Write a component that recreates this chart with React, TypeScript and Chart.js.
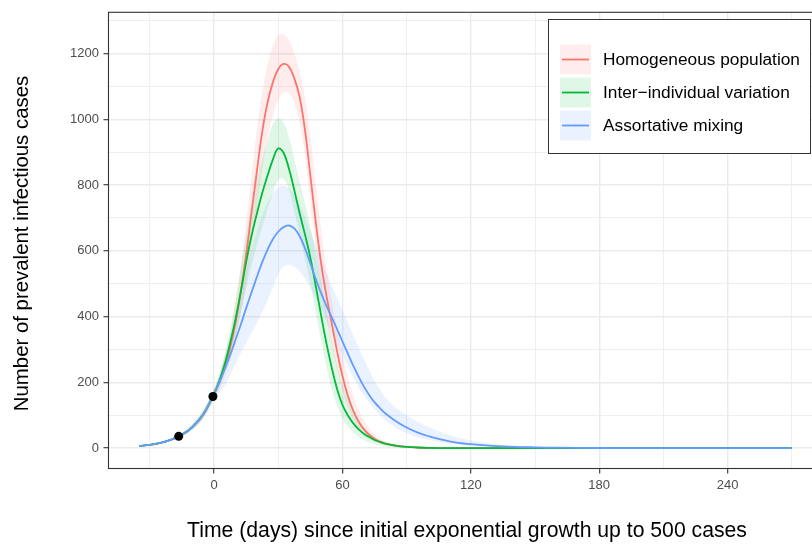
import { useEffect, useRef } from "react";
import { Chart, registerables } from "chart.js";

Chart.register(...registerables);

// ---- data ----
const days = [-35, -30, -25, -20, -15, -10, -5,
  0, 2.5, 5, 7.5, 10, 12.5, 15, 17.5, 20, 22.5, 25, 27.5, 30, 32.5, 35, 37.5, 40, 42.5, 45, 47.5, 50, 52.5, 55, 57.5, 60, 62.5, 65, 67.5, 70, 72.5, 75, 77.5, 80,
  85, 90, 95, 100, 110, 120, 130, 140, 150, 160, 180, 200, 220, 240, 260, 270];

const homogeneous = [7, 10, 16, 26, 41, 65, 103,
  165, 200, 246, 305, 380, 475, 587, 715, 840, 960, 1050, 1112, 1152, 1168, 1160, 1125, 1068, 968, 830, 690, 565, 465, 380, 295, 220, 160, 115, 82, 58, 41, 29, 20, 14,
  7, 4, 2, 1, 0, 0, 0, 0, 0, 0, 0, 0, 0, 0, 0, 0];
const homogeneousUpper = [8, 11, 18, 29, 46, 73, 116,
  180, 220, 275, 345, 435, 550, 685, 830, 965, 1080, 1165, 1222, 1255, 1258, 1240, 1200, 1145, 1065, 950, 810, 670, 550, 450, 365, 285, 215, 160, 118, 85, 60, 42, 30, 21,
  11, 6, 3, 2, 1, 0, 0, 0, 0, 0, 0, 0, 0, 0, 0, 0];
const homogeneousLower = [6, 9, 14, 23, 36, 57, 90,
  150, 180, 218, 268, 330, 410, 500, 610, 725, 840, 940, 1010, 1058, 1082, 1080, 1050, 990, 890, 750, 610, 490, 395, 315, 240, 175, 125, 88, 62, 43, 30, 21, 14, 10,
  5, 2, 1, 0, 0, 0, 0, 0, 0, 0, 0, 0, 0, 0, 0, 0];

const interIndividual = [7, 10, 16, 26, 41, 65, 103,
  165, 205, 255, 318, 390, 475, 565, 645, 712, 775, 828, 877, 911, 898, 850, 785, 715, 650, 580, 495, 405, 320, 245, 180, 132, 100, 76, 58, 44, 34, 25, 19, 14,
  8, 4, 2, 1, 0, 0, 0, 0, 0, 0, 0, 0, 0, 0, 0, 0];
const interIndividualUpper = [8, 11, 18, 29, 46, 73, 116,
  180, 225, 285, 360, 450, 550, 650, 740, 815, 878, 935, 985, 1003, 990, 945, 880, 812, 745, 675, 595, 505, 415, 330, 255, 195, 150, 115, 85, 63, 46, 34, 25, 18,
  10, 5, 3, 2, 1, 0, 0, 0, 0, 0, 0, 0, 0, 0, 0, 0];
const interIndividualLower = [6, 9, 14, 23, 36, 57, 90,
  150, 185, 228, 280, 340, 410, 485, 555, 615, 672, 725, 775, 815, 820, 785, 720, 645, 575, 500, 415, 330, 250, 180, 130, 92, 67, 48, 35, 25, 18, 13, 9, 6,
  3, 1, 0, 0, 0, 0, 0, 0, 0, 0, 0, 0, 0, 0, 0, 0];

const assortative = [7, 10, 16, 26, 41, 65, 103,
  165, 200, 240, 282, 328, 375, 425, 473, 520, 565, 603, 635, 658, 672, 677, 668, 645, 608, 562, 515, 472, 433, 398, 362, 325, 288, 252, 218, 188, 162, 140, 122, 106,
  82, 63, 48, 37, 21, 12, 7, 4, 2.5, 1.5, 0.5, 0, 0, 0, 0, 0];
const assortativeUpper = [8, 11, 18, 29, 46, 73, 116,
  180, 225, 280, 340, 410, 475, 540, 602, 660, 708, 745, 775, 792, 797, 790, 770, 740, 702, 660, 617, 575, 535, 495, 457, 420, 382, 345, 308, 272, 238, 205, 178, 155,
  122, 100, 80, 65, 40, 24, 14, 8, 5, 3, 1, 0, 0, 0, 0, 0];
const assortativeLower = [6, 9, 14, 23, 36, 57, 90,
  150, 168, 190, 220, 255, 288, 320, 350, 380, 413, 450, 490, 528, 552, 558, 552, 538, 515, 488, 456, 422, 387, 352, 317, 283, 248, 215, 186, 160, 138, 118, 101, 86,
  62, 45, 33, 25, 14, 7, 4, 2, 1, 0, 0, 0, 0, 0, 0, 0];

const markerDays = [-16.5, -0.5];
const markerValues = [36, 157];

const seriesNames = ["Homogeneous population", "Inter\u2212individual variation", "Assortative mixing"];
const seriesColors = ["#F8766D", "#00BA38", "#619CFF"];
const seriesFills = ["rgba(248,118,109,0.13)", "rgba(0,186,56,0.12)", "rgba(97,156,255,0.13)"];

const xTickValues = [-30, 0, 30, 60, 90, 120, 150, 180, 210, 240, 270];
const yTickValues = [0, 100, 200, 300, 400, 500, 600, 700, 800, 900, 1000, 1100, 1200, 1300];

const xTitle = "Time (days) since initial exponential growth up to 500 cases";
const yTitle = "Number of prevalent infectious cases";

const FONT = "'Liberation Sans', Arial, Helvetica, sans-serif";

const toPoints = (vals: number[]) => vals.map((v, i) => ({ x: days[i], y: v }));

const panelLegendPlugin = {
  id: "panelLegend",
  afterDatasetsDraw(chart: any) {
    const { ctx, chartArea: a } = chart;
    ctx.save();
    ctx.strokeStyle = "#333333";
    ctx.lineWidth = 1.1;
    ctx.strokeRect(a.left, a.top, a.right - a.left, a.bottom - a.top);

    // legend
    const bx = 548.5, by = 19.5, bw = 262, bh = 134;
    ctx.fillStyle = "#ffffff";
    ctx.fillRect(bx, by, bw, bh);
    ctx.strokeStyle = "#333333";
    ctx.lineWidth = 1;
    ctx.strokeRect(bx, by, bw, bh);
    const keyX = 560, keyW = 31, keyH = 30;
    const keyY0 = 44.5, step = 33;
    ctx.font = `17.3px ${FONT}`;
    ctx.textBaseline = "middle";
    ctx.textAlign = "left";
    for (let i = 0; i < seriesNames.length; i++) {
      const ky = keyY0 + i * step;
      ctx.fillStyle = seriesFills[i];
      ctx.fillRect(keyX, ky, keyW, keyH);
      ctx.strokeStyle = seriesColors[i];
      ctx.lineWidth = 1.8;
      ctx.beginPath();
      ctx.moveTo(keyX + 2, ky + keyH / 2);
      ctx.lineTo(keyX + keyW - 2, ky + keyH / 2);
      ctx.stroke();
      ctx.fillStyle = "#000000";
      ctx.fillText(seriesNames[i], 603, ky + keyH / 2 + 1);
    }

    // axis titles
    ctx.fillStyle = "#000000";
    ctx.textAlign = "center";
    ctx.textBaseline = "alphabetic";
    ctx.font = `21.2px ${FONT}`;
    ctx.fillText(xTitle, 467, 536.5);
    ctx.save();
    ctx.translate(28, 243.5);
    ctx.rotate(-Math.PI / 2);
    ctx.font = `20.4px ${FONT}`;
    ctx.fillText(yTitle, 0, 0);
    ctx.restore();
    ctx.restore();
  },
};

export default function App() {
  const ref = useRef<HTMLCanvasElement | null>(null);

  useEffect(() => {
    if (!ref.current) return;
    const datasets: any[] = [];
    datasets.push({
      label: "markers",
      data: markerDays.map((d, i) => ({ x: d, y: markerValues[i] })),
      showLine: false,
      pointRadius: 4.5,
      pointHoverRadius: 4.5,
      pointBackgroundColor: "#000000",
      pointBorderWidth: 0,
      borderWidth: 0,
    });
    const mids = [homogeneous, interIndividual, assortative];
    const uppers = [homogeneousUpper, interIndividualUpper, assortativeUpper];
    const lowers = [homogeneousLower, interIndividualLower, assortativeLower];
    // lines: later entries are drawn first, so blue (last series) goes first to end up on top
    for (let i = 2; i >= 0; i--) {
      datasets.push({
        label: seriesNames[i],
        data: toPoints(mids[i]),
        borderColor: seriesColors[i],
        borderWidth: 1.8,
        pointRadius: 0,
        fill: false,
        tension: 0.4,
      });
    }
    for (let i = 0; i < 3; i++) {
      datasets.push({
        label: seriesNames[i] + " lower",
        data: toPoints(lowers[i]),
        borderWidth: 0,
        borderColor: "rgba(0,0,0,0)",
        pointRadius: 0,
        fill: false,
        tension: 0.4,
      });
      datasets.push({
        label: seriesNames[i] + " upper",
        data: toPoints(uppers[i]),
        borderWidth: 0,
        borderColor: "rgba(0,0,0,0)",
        backgroundColor: seriesFills[i],
        pointRadius: 0,
        fill: "-1",
        tension: 0.4,
      });
    }

    const pxPerDay = 2.14;
    const zeroPx = 214;
    const areaLeft = 108.5;
    const xMin = -(zeroPx - areaLeft) / pxPerDay;
    const xMax = 290;
    const areaRight = zeroPx + xMax * pxPerDay;
    const canvasW = 860;

    const chart = new Chart(ref.current, {
      type: "line",
      data: { datasets },
      options: {
        animation: false,
        responsive: false,
        devicePixelRatio: 1,
        events: [],
        layout: { padding: { left: 0, right: canvasW - areaRight, top: 8.5, bottom: 0 } },
        plugins: {
          legend: { display: false },
          tooltip: { enabled: false },
          filler: { drawTime: "beforeDatasetsDraw" },
        },
        scales: {
          x: {
            type: "linear",
            min: xMin,
            max: xMax,
            afterFit: (s: any) => { s.height = 544 - 468.5; },
            afterBuildTicks: (s: any) => { s.ticks = xTickValues.map((v) => ({ value: v })); },
            ticks: {
              autoSkip: false,
              maxRotation: 0,
              padding: 4,
              color: "#4D4D4D",
              font: { family: FONT, size: 13 },
              callback: (v: any) => (Number(v) % 60 === 0 ? String(v) : ""),
            },
            grid: {
              drawTicks: true,
              tickLength: 5,
              color: "#EBEBEB",
              lineWidth: (c: any) => (c.tick && c.tick.value % 60 === 0 ? 1.4 : 0.8),
              tickColor: (c: any) => (c.tick && c.tick.value % 60 === 0 ? "#333333" : "rgba(0,0,0,0)"),
              tickWidth: 1.1,
            },
            border: { display: false },
            title: { display: false },
          },
          y: {
            type: "linear",
            min: -61.8,
            max: 1325.1,
            afterFit: (s: any) => { s.width = 108.5; },
            afterBuildTicks: (s: any) => { s.ticks = yTickValues.map((v) => ({ value: v })); },
            ticks: {
              autoSkip: false,
              padding: 4.5,
              color: "#4D4D4D",
              font: { family: FONT, size: 13 },
              callback: (v: any) => (Number(v) % 200 === 0 ? String(v) : ""),
            },
            grid: {
              drawTicks: true,
              tickLength: 5,
              color: "#EBEBEB",
              lineWidth: (c: any) => (c.tick && c.tick.value % 200 === 0 ? 1.4 : 0.8),
              tickColor: (c: any) => (c.tick && c.tick.value % 200 === 0 ? "#333333" : "rgba(0,0,0,0)"),
              tickWidth: 1.1,
            },
            border: { display: false },
            title: { display: false },
          },
        },
      },
      plugins: [panelLegendPlugin],
    });
    return () => chart.destroy();
  }, []);

  return (
    <div style={{ position: "absolute", left: 0, top: 0, width: 812, height: 544, overflow: "hidden", background: "#ffffff" }}>
      <canvas ref={ref} width={860} height={544} style={{ display: "block", width: 860, height: 544 }} />
    </div>
  );
}
